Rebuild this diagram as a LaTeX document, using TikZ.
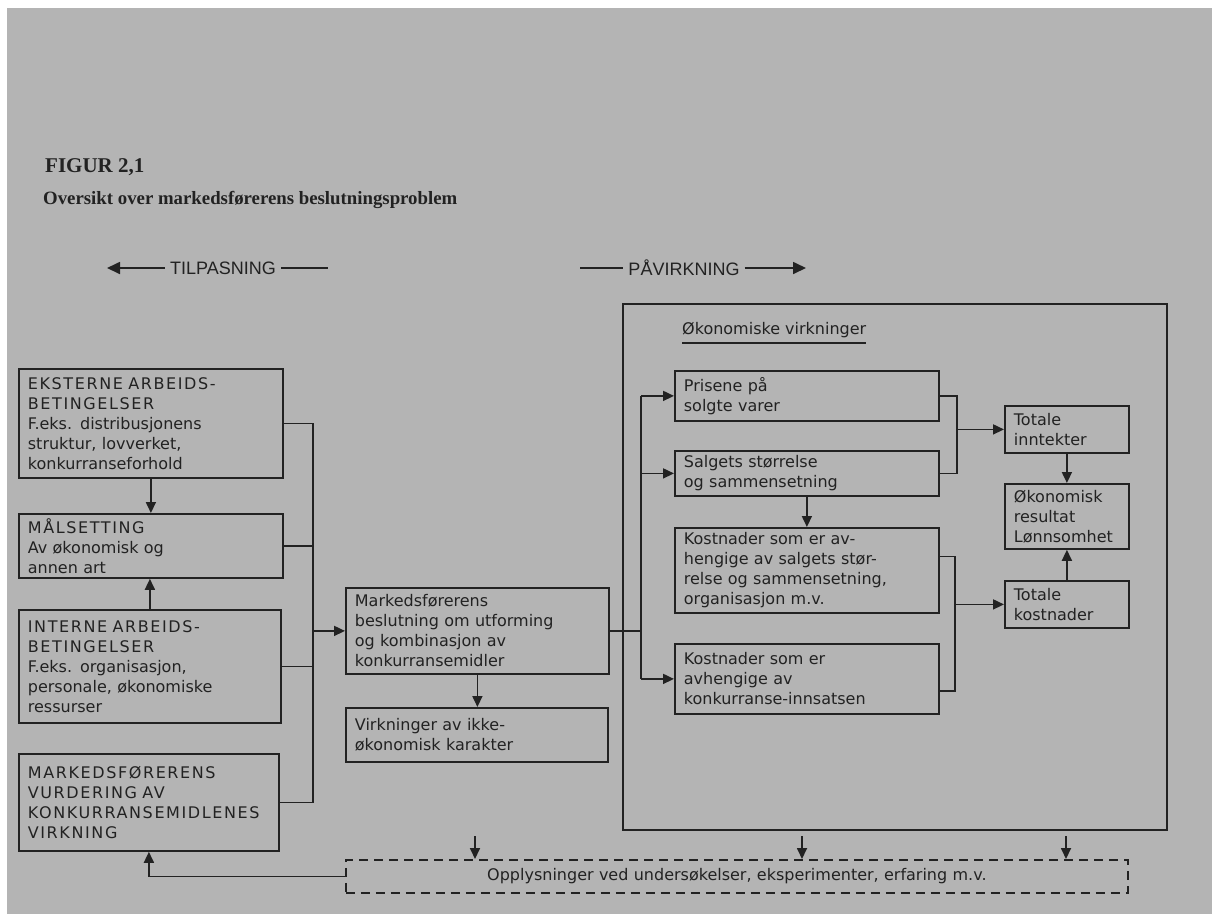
\documentclass[tikz,border=0pt]{standalone}
\usepackage{fontspec}
\setmainfont{DejaVu Sans}
\newfontfamily\capsfont[LetterSpace=10]{DejaVu Sans}
\newfontfamily\titlefont{Liberation Serif}
\newfontfamily\arrfont{Liberation Sans}
\usetikzlibrary{arrows.meta}
\definecolor{bg}{RGB}{180,180,180}
\definecolor{ink}{RGB}{34,34,34}
\begin{document}
\begin{tikzpicture}[x=1pt,y=-1pt,
  ln/.style={draw=ink,line width=1.7pt},
  arr/.style={ln,-{Triangle[length=11pt,width=10pt]}},
  bigarr/.style={ln,-{Triangle[length=13pt,width=12pt]}},
  box/.style={draw=ink,line width=1.8pt,anchor=north west,inner xsep=9pt,inner ysep=0pt,
    align=left,text=ink,font=\fontsize{16}{20}\selectfont},
  lbl/.style={text=ink,inner sep=0pt},
  ]
\useasboundingbox (0,0) rectangle (1212,914);
\fill[white] (0,0) rectangle (1212,914);
\fill[bg] (7,8) rectangle (1212,914);

% title
\node[lbl,anchor=base west,font=\titlefont\bfseries\fontsize{21}{24}\selectfont] (fig) at (45,172) {FIGUR 2,1};
\node[lbl,anchor=base west,font=\titlefont\bfseries\fontsize{18.8}{22}\selectfont] (sub) at (43,204) {Oversikt over markedsførerens beslutningsproblem};

% direction arrows
\node[lbl,inner xsep=5pt,font=\arrfont\fontsize{18}{20}\selectfont] (tilp) at (223,268) {TILPASNING};
\coordinate (tl) at (107,268);
\coordinate (tr) at (328,268);
\draw[bigarr] (tilp.west) -- (tl);
\draw[ln] (tilp.east) -- (tr);
\node[lbl,inner xsep=5pt,font=\arrfont\fontsize{18}{20}\selectfont] (pav) at (684,268) {PÅVIRKNING};
\coordinate (pl) at (580,268);
\coordinate (pr) at (806,268);
\draw[ln] (pl) -- (pav.west);
\draw[bigarr] (pav.east) -- (pr);

% left column
\node[box,text width=246pt,minimum height=109pt] (EK) at (18,368)
  {{\capsfont EKSTERNE ARBEIDS-}\\{\capsfont BETINGELSER}\\F.eks. distribusjonens\\struktur, lovverket,\\konkurranseforhold};
\node[box,text width=246pt,minimum height=64pt] (MAL) at (18,513)
  {{\capsfont MÅLSETTING}\\Av økonomisk og\\annen art};
\node[box,text width=244pt,minimum height=113pt] (INT) at (18,609)
  {{\capsfont INTERNE ARBEIDS-}\\{\capsfont BETINGELSER}\\F.eks. organisasjon,\\personale, økonomiske\\ressurser};
\node[box,text width=242pt,minimum height=97pt] (MF) at (18,753)
  {{\capsfont MARKEDSFØRERENS}\\{\capsfont VURDERING AV}\\{\capsfont KONKURRANSEMIDLENES}\\{\capsfont VIRKNING}};

% middle column
\node[box,text width=245pt,minimum height=86pt] (MB) at (345,587)
  {Markedsførerens\\beslutning om utforming\\og kombinasjon av\\konkurransemidler};
\node[box,text width=244pt,minimum height=54pt] (VIK) at (345,707)
  {Virkninger av ikke-\\økonomisk karakter};

% economic effects frame
\node[draw=ink,line width=1.8pt,anchor=north west,minimum width=544pt,minimum height=526pt,inner sep=0pt] (OB) at (622,303) {};
\node[lbl,anchor=west,font=\fontsize{16}{20}\selectfont] (ov) at (682,330) {Økonomiske virkninger};
\draw[ln,line width=1.5pt] ([yshift=-5pt]ov.south west) -- ([yshift=-5pt]ov.south east);

\node[box,text width=246pt,minimum height=50pt] (PRI) at (674,370) {Prisene på\\solgte varer};
\node[box,text width=246pt,minimum height=45pt] (SAL) at (674,450) {Salgets størrelse\\og sammensetning};
\node[box,text width=246pt,minimum height=85pt] (K1) at (674,527)
  {Kostnader som er av-\\hengige av salgets stør-\\relse og sammensetning,\\organisasjon m.v.};
\node[box,text width=246pt,minimum height=70pt] (K2) at (674,643)
  {Kostnader som er\\avhengige av\\konkurranse-innsatsen};
\node[box,text width=106pt,minimum height=47pt] (TI) at (1004,405) {Totale\\inntekter};
\node[box,text width=106pt,minimum height=65pt] (OR) at (1004,483) {Økonomisk\\resultat\\Lønnsomhet};
\node[box,text width=106pt,minimum height=47pt] (TK) at (1004,580) {Totale\\kostnader};

% bottom dashed box
\node[box,dash pattern=on 9pt off 6pt,text width=764pt,minimum height=33pt,align=center] (DB) at (345,859)
  {Opplysninger ved undersøkelser, eksperimenter, erfaring m.v.};

% left connectors
\coordinate (tx) at (313,0);
\draw[ln] (EK.east) -- (EK.east -| tx) -- (MF.east -| tx) -- (MF.east);
\draw[ln] (MAL.east) -- (MAL.east -| tx);
\draw[ln] (INT.east) -- (INT.east -| tx);
\draw[arr] (MB.west -| tx) -- (MB.west);
\draw[arr] (EK.south) -- (EK.south |- MAL.north);
\draw[arr] (INT.north) -- (INT.north |- MAL.south);
\draw[arr] (MB.south) -- (MB.south |- VIK.north);

% right connectors
\coordinate (rx) at (641,0);
\draw[ln] (MB.east) -- (MB.east -| rx);
\draw[ln] (PRI.west -| rx) -- (K2.west -| rx);
\draw[arr] (PRI.west -| rx) -- (PRI.west);
\draw[arr] (SAL.west -| rx) -- (SAL.west);
\draw[arr] (K2.west -| rx) -- (K2.west);

\coordinate (ix) at (957,0);
\draw[ln] (PRI.east) -- (PRI.east -| ix) -- (SAL.east -| ix) -- (SAL.east);
\draw[arr] (TI.west -| ix) -- (TI.west);
\draw[arr] (SAL.south) -- (SAL.south |- K1.north);

\coordinate (kx) at (955,0);
\draw[ln] ([yshift=14pt]K1.east) -- ([yshift=14pt]K1.east -| kx) -- ([yshift=-12pt]K2.east -| kx) -- ([yshift=-12pt]K2.east);
\draw[arr] (TK.west -| kx) -- (TK.west);
\draw[arr] (TI.south) -- (TI.south |- OR.north);
\draw[arr] (TK.north) -- (TK.north |- OR.south);

% to dashed box
\coordinate (d1) at (475,836);
\coordinate (d2) at (802,836);
\coordinate (d3) at (1066,836);
\draw[arr] (d1) -- (d1 |- DB.north);
\draw[arr] (d2) -- (d2 |- DB.north);
\draw[arr] (d3) -- (d3 |- DB.north);
\draw[arr] (DB.west) -| (MF.south);
\end{tikzpicture}
\end{document}
